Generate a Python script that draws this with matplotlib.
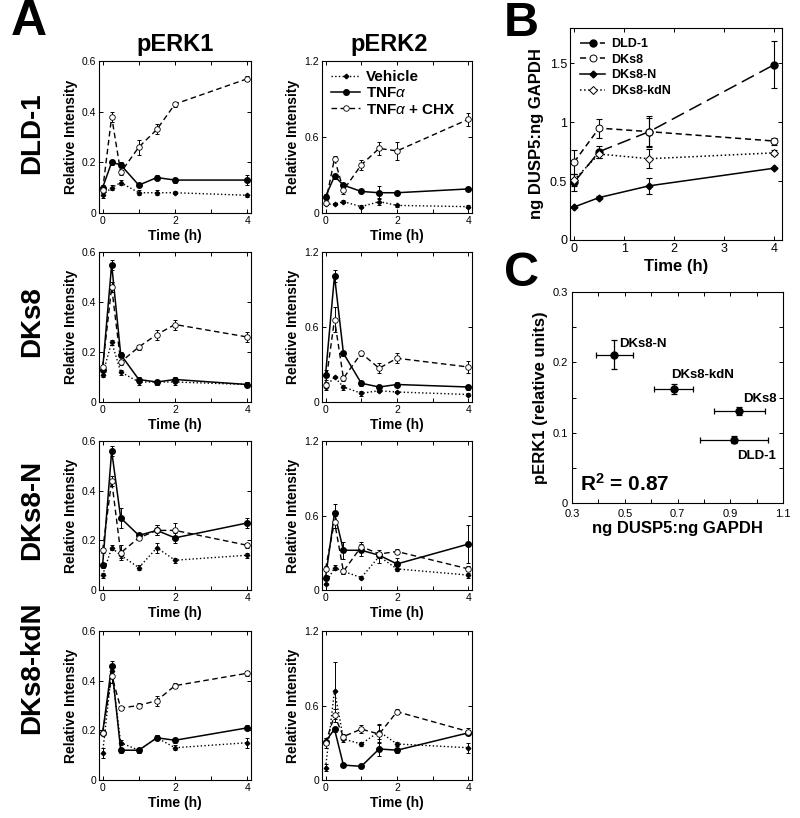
import matplotlib
matplotlib.use('Agg')
import matplotlib.pyplot as plt

plt.rcParams['font.family'] = ['Liberation Sans', 'DejaVu Sans']
plt.rcParams['mathtext.fontset'] = 'custom'
plt.rcParams['mathtext.rm'] = 'Liberation Sans'
plt.rcParams['mathtext.bf'] = 'Liberation Sans:bold'
plt.rcParams['mathtext.it'] = 'Liberation Sans:italic'

# ---------------- data ----------------
time = [0, 0.25, 0.5, 1, 1.5, 2, 4]
cell_lines = ['DLD-1', 'DKs8', 'DKs8-N', 'DKs8-kdN']
proteins = ['pERK1', 'pERK2']
series_names = ['Vehicle', r'TNF$\alpha$', r'TNF$\alpha$ + CHX']

# DLD-1
dld1_erk1_veh = [0.07, 0.10, 0.12, 0.08, 0.08, 0.08, 0.07]
dld1_erk1_veh_err = [0.01, 0.01, 0.01, 0.01, 0.01, 0.005, 0.005]
dld1_erk1_tnf = [0.10, 0.20, 0.19, 0.11, 0.14, 0.13, 0.13]
dld1_erk1_tnf_err = [0.01, 0.01, 0.01, 0.005, 0.01, 0.01, 0.02]
dld1_erk1_chx = [0.09, 0.38, 0.16, 0.26, 0.33, 0.43, 0.53]
dld1_erk1_chx_err = [0.01, 0.02, 0.01, 0.03, 0.02, 0.01, 0.01]
dld1_erk2_veh = [0.07, 0.07, 0.09, 0.05, 0.09, 0.06, 0.05]
dld1_erk2_veh_err = [0.01, 0.01, 0.01, 0.01, 0.03, 0.01, 0.01]
dld1_erk2_tnf = [0.13, 0.29, 0.22, 0.17, 0.16, 0.16, 0.19]
dld1_erk2_tnf_err = [0.02, 0.02, 0.02, 0.01, 0.05, 0.01, 0.01]
dld1_erk2_chx = [0.08, 0.43, 0.18, 0.38, 0.51, 0.49, 0.74]
dld1_erk2_chx_err = [0.02, 0.02, 0.03, 0.04, 0.05, 0.07, 0.05]
# DKs8
dks8_erk1_veh = [0.11, 0.24, 0.12, 0.08, 0.08, 0.08, 0.07]
dks8_erk1_veh_err = [0.01, 0.01, 0.01, 0.01, 0.01, 0.01, 0.01]
dks8_erk1_tnf = [0.13, 0.55, 0.19, 0.09, 0.08, 0.09, 0.07]
dks8_erk1_tnf_err = [0.01, 0.02, 0.01, 0.01, 0.01, 0.01, 0.01]
dks8_erk1_chx = [0.14, 0.46, 0.16, 0.22, 0.27, 0.31, 0.26]
dks8_erk1_chx_err = [0.01, 0.02, 0.01, 0.01, 0.02, 0.02, 0.02]
dks8_erk2_veh = [0.12, 0.20, 0.12, 0.07, 0.09, 0.08, 0.06]
dks8_erk2_veh_err = [0.02, 0.01, 0.02, 0.02, 0.01, 0.01, 0.01]
dks8_erk2_tnf = [0.22, 1.01, 0.39, 0.15, 0.12, 0.14, 0.12]
dks8_erk2_tnf_err = [0.04, 0.05, 0.02, 0.02, 0.02, 0.02, 0.02]
dks8_erk2_chx = [0.14, 0.66, 0.19, 0.39, 0.27, 0.35, 0.28]
dks8_erk2_chx_err = [0.02, 0.10, 0.02, 0.02, 0.04, 0.04, 0.05]
# DKs8-N
dks8n_erk1_veh = [0.06, 0.17, 0.14, 0.09, 0.17, 0.12, 0.14]
dks8n_erk1_veh_err = [0.01, 0.01, 0.01, 0.01, 0.02, 0.01, 0.01]
dks8n_erk1_tnf = [0.10, 0.56, 0.29, 0.22, 0.24, 0.21, 0.27]
dks8n_erk1_tnf_err = [0.01, 0.02, 0.04, 0.01, 0.02, 0.02, 0.02]
dks8n_erk1_chx = [0.16, 0.44, 0.15, 0.21, 0.24, 0.24, 0.18]
dks8n_erk1_chx_err = [0.01, 0.02, 0.03, 0.01, 0.02, 0.03, 0.01]
dks8n_erk2_veh = [0.05, 0.18, 0.15, 0.10, 0.27, 0.17, 0.12]
dks8n_erk2_veh_err = [0.01, 0.02, 0.02, 0.01, 0.05, 0.02, 0.02]
dks8n_erk2_tnf = [0.10, 0.62, 0.32, 0.32, 0.28, 0.21, 0.37]
dks8n_erk2_tnf_err = [0.02, 0.07, 0.07, 0.05, 0.02, 0.05, 0.15]
dks8n_erk2_chx = [0.17, 0.55, 0.15, 0.35, 0.29, 0.31, 0.17]
dks8n_erk2_chx_err = [0.02, 0.05, 0.02, 0.04, 0.02, 0.02, 0.02]
# DKs8-kdN
dks8kdn_erk1_veh = [0.11, 0.44, 0.15, 0.12, 0.17, 0.13, 0.15]
dks8kdn_erk1_veh_err = [0.02, 0.02, 0.01, 0.01, 0.01, 0.01, 0.02]
dks8kdn_erk1_tnf = [0.19, 0.46, 0.12, 0.12, 0.17, 0.16, 0.21]
dks8kdn_erk1_tnf_err = [0.01, 0.02, 0.01, 0.01, 0.01, 0.01, 0.01]
dks8kdn_erk1_chx = [0.19, 0.42, 0.29, 0.30, 0.32, 0.38, 0.43]
dks8kdn_erk1_chx_err = [0.01, 0.03, 0.01, 0.01, 0.02, 0.01, 0.01]
dks8kdn_erk2_veh = [0.10, 0.72, 0.33, 0.29, 0.39, 0.29, 0.26]
dks8kdn_erk2_veh_err = [0.03, 0.23, 0.02, 0.02, 0.06, 0.02, 0.04]
dks8kdn_erk2_tnf = [0.31, 0.41, 0.12, 0.11, 0.25, 0.24, 0.38]
dks8kdn_erk2_tnf_err = [0.03, 0.02, 0.01, 0.01, 0.06, 0.02, 0.02]
dks8kdn_erk2_chx = [0.30, 0.52, 0.35, 0.41, 0.37, 0.55, 0.39]
dks8kdn_erk2_chx_err = [0.04, 0.05, 0.02, 0.03, 0.07, 0.02, 0.03]

erk1_yticks = [0, 0.2, 0.4, 0.6]
erk1_yticklabels = ['0', '0.2', '0.4', '0.6']
erk2_yticks = [0, 0.6, 1.2]
erk2_yticklabels = ['0', '0.6', '1.2']
a_xticks = [0, 1, 2, 3, 4]
a_xticklabels = ['0', '', '2', '', '4']

# Panel B
timeB = [0, 0.5, 1.5, 4]
b_names = ['DLD-1', 'DKs8', 'DKs8-N', 'DKs8-kdN']
b_dld1 = [0.49, 0.75, 0.92, 1.49]
b_dld1_err = [0.07, 0.05, 0.13, 0.20]
b_dks8 = [0.66, 0.95, 0.92, 0.84]
b_dks8_err = [0.10, 0.08, 0.12, 0.03]
b_dks8n = [0.28, 0.36, 0.46, 0.61]
b_dks8n_err = [0.01, 0.01, 0.07, 0.01]
b_dks8kdn = [0.51, 0.73, 0.69, 0.74]
b_dks8kdn_err = [0.05, 0.03, 0.08, 0.02]
b_yticks = [0, 0.5, 1, 1.5]
b_yticklabels = ['0', '0.5', '1', '1.5']

# Panel C
c_names = ['DKs8-N', 'DKs8-kdN', 'DKs8', 'DLD-1']
c_dusp5 = [0.46, 0.685, 0.935, 0.915]
c_dusp5_err = [0.07, 0.075, 0.095, 0.13]
c_perk1 = [0.211, 0.162, 0.131, 0.090]
c_perk1_err = [0.021, 0.007, 0.006, 0.005]
c_xticks = [0.3, 0.4, 0.5, 0.6, 0.7, 0.8, 0.9, 1.0, 1.1]
c_xticklabels = ['0.3', '', '0.5', '', '0.7', '', '0.9', '', '1.1']
c_yticks = [0, 0.05, 0.1, 0.15, 0.2, 0.25, 0.3]
c_yticklabels = ['0', '', '0.1', '', '0.2', '', '0.3']
r2_text = r'R$^\mathbf{2}$ = 0.87'

panelA = {
    ('DLD-1', 'pERK1'): [(dld1_erk1_veh, dld1_erk1_veh_err), (dld1_erk1_tnf, dld1_erk1_tnf_err), (dld1_erk1_chx, dld1_erk1_chx_err)],
    ('DLD-1', 'pERK2'): [(dld1_erk2_veh, dld1_erk2_veh_err), (dld1_erk2_tnf, dld1_erk2_tnf_err), (dld1_erk2_chx, dld1_erk2_chx_err)],
    ('DKs8', 'pERK1'): [(dks8_erk1_veh, dks8_erk1_veh_err), (dks8_erk1_tnf, dks8_erk1_tnf_err), (dks8_erk1_chx, dks8_erk1_chx_err)],
    ('DKs8', 'pERK2'): [(dks8_erk2_veh, dks8_erk2_veh_err), (dks8_erk2_tnf, dks8_erk2_tnf_err), (dks8_erk2_chx, dks8_erk2_chx_err)],
    ('DKs8-N', 'pERK1'): [(dks8n_erk1_veh, dks8n_erk1_veh_err), (dks8n_erk1_tnf, dks8n_erk1_tnf_err), (dks8n_erk1_chx, dks8n_erk1_chx_err)],
    ('DKs8-N', 'pERK2'): [(dks8n_erk2_veh, dks8n_erk2_veh_err), (dks8n_erk2_tnf, dks8n_erk2_tnf_err), (dks8n_erk2_chx, dks8n_erk2_chx_err)],
    ('DKs8-kdN', 'pERK1'): [(dks8kdn_erk1_veh, dks8kdn_erk1_veh_err), (dks8kdn_erk1_tnf, dks8kdn_erk1_tnf_err), (dks8kdn_erk1_chx, dks8kdn_erk1_chx_err)],
    ('DKs8-kdN', 'pERK2'): [(dks8kdn_erk2_veh, dks8kdn_erk2_veh_err), (dks8kdn_erk2_tnf, dks8kdn_erk2_tnf_err), (dks8kdn_erk2_chx, dks8kdn_erk2_chx_err)],
}

# ---------------- figure ----------------
W, H = 800, 818
fig = plt.figure(figsize=(W / 100, H / 100), dpi=100)


def ax_px(l, t, r, b):
    return fig.add_axes([l / W, 1 - b / H, (r - l) / W, (b - t) / H])


def style(ax, fs):
    ax.tick_params(direction='in', top=True, right=True, length=3, width=0.7,
                   labelsize=fs, pad=2)
    for s in ax.spines.values():
        s.set_linewidth(0.8)


styles = [
    dict(ls=':', marker='D', ms=2.3, mfc='k', mec='k', lw=1.0),
    dict(ls='-', marker='o', ms=4, mfc='k', mec='k', lw=1.1),
    dict(ls=(0, (4, 2.5)), marker='o', ms=4, mfc='white', mec='k', mew=0.6, lw=1.0),
]

col_x = [(99, 251), (322, 472)]
row_y = [(61, 213), (252, 402), (441, 590), (631, 780)]

for ri, cl in enumerate(cell_lines):
    for ci, pr in enumerate(proteins):
        l, r = col_x[ci]
        t, b = row_y[ri]
        ax = ax_px(l, t, r, b)
        style(ax, 7.5)
        handles = []
        for si, (vals, errs) in enumerate(panelA[(cl, pr)]):
            st = styles[si]
            ax.errorbar(time, vals, yerr=errs, fmt='none', ecolor='k',
                        elinewidth=0.7, capsize=1.6, capthick=0.7)
            h, = ax.plot(time, vals, color='k', label=series_names[si], **st)
            handles.append(h)
        ax.set_xlim(-0.1, 4.1)
        ax.set_xticks(a_xticks)
        ax.set_xticklabels(a_xticklabels)
        if pr == 'pERK1':
            ax.set_ylim(0, 0.6)
            ax.set_yticks(erk1_yticks)
            ax.set_yticklabels(erk1_yticklabels)
        else:
            ax.set_ylim(0, 1.2)
            ax.set_yticks(erk2_yticks)
            ax.set_yticklabels(erk2_yticklabels)
        ax.set_xlabel('Time (h)', fontsize=10, fontweight='bold', labelpad=2)
        ax.set_ylabel('Relative Intensity', fontsize=10, fontweight='bold', labelpad=3)
        if ri == 0 and ci == 1:
            ax.legend(handles=handles, loc='upper left', frameon=False,
                      prop={'weight': 'bold', 'size': 11}, handlelength=1.9,
                      handletextpad=0.4, labelspacing=0.15,
                      borderaxespad=0.2, bbox_to_anchor=(0.0, 1.0))

# Row & column titles
row_centers = [133, 322, 510, 668]
for yc, name in zip(row_centers, cell_lines):
    fig.text(32 / W, 1 - yc / H, name, rotation=90, ha='center', va='center',
             fontsize=20, fontweight='bold')
for xc, name in zip([175, 389], proteins):
    fig.text(xc / W, 1 - 45 / H, name, ha='center', va='center',
             fontsize=17, fontweight='bold')

fig.text(29 / W, 1 - 22 / H, 'A', ha='center', va='center', fontsize=36, fontweight='bold')
fig.text(521 / W, 1 - 24 / H, 'B', ha='center', va='center', fontsize=35, fontweight='bold')
fig.text(521 / W, 1 - 273 / H, 'C', ha='center', va='center', fontsize=35, fontweight='bold')

# ---------------- Panel B ----------------
axB = ax_px(570, 28, 782, 240)
style(axB, 9)
b_series = [(b_dld1, b_dld1_err), (b_dks8, b_dks8_err), (b_dks8n, b_dks8n_err), (b_dks8kdn, b_dks8kdn_err)]
b_styles = [
    dict(ls=(0, (9, 4)), marker='o', ms=5, mfc='k', mec='k', lw=1.1),
    dict(ls=(0, (4, 2.5)), marker='o', ms=5, mfc='white', mec='k', mew=0.7, lw=1.1),
    dict(ls='-', marker='D', ms=3.5, mfc='k', mec='k', lw=1.1),
    dict(ls=':', marker='D', ms=4, mfc='white', mec='k', mew=0.7, lw=1.1),
]
hB = []
for (vals, errs), st, nm in zip(b_series, b_styles, b_names):
    axB.errorbar(timeB, vals, yerr=errs, fmt='none', ecolor='k', elinewidth=0.8,
                 capsize=2, capthick=0.8)
    h, = axB.plot(timeB, vals, color='k', label=nm, **st)
    hB.append(h)
axB.set_xlim(-0.08, 4.15)
axB.set_ylim(0, 1.8)
axB.set_xticks([0, 1, 2, 3, 4])
axB.set_yticks(b_yticks)
axB.set_yticklabels(b_yticklabels)
axB.set_xlabel('Time (h)', fontsize=12, fontweight='bold', labelpad=3)
axB.set_ylabel('ng DUSP5:ng GAPDH', fontsize=12, fontweight='bold', labelpad=4)
axB.legend(handles=hB, loc='upper left', frameon=False,
           prop={'weight': 'bold', 'size': 9}, handlelength=2.0,
           handletextpad=0.5, labelspacing=0.3, borderaxespad=0.4)

# ---------------- Panel C ----------------
axC = ax_px(572, 292, 783, 503)
style(axC, 8)
axC.tick_params(axis='x', pad=4)
axC.tick_params(axis='y', pad=3)
axC.errorbar(c_dusp5, c_perk1, xerr=c_dusp5_err, yerr=c_perk1_err, fmt='o',
             color='k', ms=5, elinewidth=0.9, capsize=2, capthick=0.9)
offsets = [(3.8, 7.7, 'left', 'center'), (-1.7, 10.3, 'left', 'center'),
           (2.4, 8.4, 'left', 'center'), (1.9, -11.8, 'left', 'center')]
for nm, x, y, (dx, dy, ha, va) in zip(c_names, c_dusp5, c_perk1, offsets):
    axC.annotate(nm, (x, y), xytext=(dx, dy), textcoords='offset points',
                 ha=ha, va=va, fontsize=9.5, fontweight='bold')
axC.set_xlim(0.3, 1.1)
axC.set_ylim(0, 0.3)
axC.set_xticks(c_xticks)
axC.set_xticklabels(c_xticklabels)
axC.set_yticks(c_yticks)
axC.set_yticklabels(c_yticklabels)
axC.text(0.04, 0.09, r2_text, transform=axC.transAxes, fontsize=15,
         fontweight='bold', ha='left', va='center')
axC.set_xlabel('ng DUSP5:ng GAPDH', fontsize=12, fontweight='bold', labelpad=2)
axC.set_ylabel('pERK1 (relative units)', fontsize=12, fontweight='bold', labelpad=3)

fig.savefig('out.png', dpi=100)
